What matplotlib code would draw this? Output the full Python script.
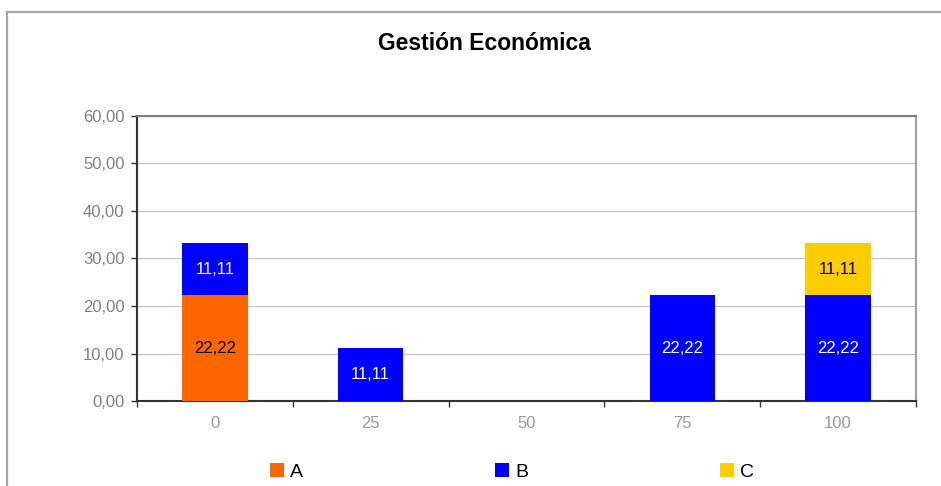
import matplotlib
matplotlib.use("Agg")
import matplotlib.pyplot as plt
from matplotlib.patches import Rectangle
import numpy as np

plt.rcParams['font.family'] = ['Liberation Sans', 'DejaVu Sans']

categories = ["0", "25", "50", "75", "100"]
series_names = ["A", "B", "C"]
values_a = [22.22, 0, 0, 0, 0]
values_b = [11.11, 11.11, 0, 22.22, 22.22]
values_c = [0, 0, 0, 0, 11.11]
colors = ["#FF6600", "#0000FF", "#FFCC00"]
label_colors = ["black", "white", "black"]
y_ticks = [0, 10, 20, 30, 40, 50, 60]

fig = plt.figure(figsize=(9.41, 4.86), dpi=100)
ax = fig.add_axes([137 / 941, 85 / 486, (916 - 137) / 941, (401 - 116) / 486])

# outer chart frame
fig.patches.append(Rectangle((7 / 941, -0.05), 1.0, (486 - 12) / 486 + 0.05,
                             transform=fig.transFigure, fill=False,
                             edgecolor="#A6A6A6", linewidth=1.6, zorder=0))

x = np.arange(len(categories))
bottom = np.zeros(len(categories))
handles = []
for vals, col, lc, name in zip([values_a, values_b, values_c], colors, label_colors, series_names):
    vals = np.array(vals)
    bars = ax.bar(x, vals, width=0.42, bottom=bottom, color=col, zorder=3, label=name)
    handles.append(bars)
    for xi, v, b in zip(x, vals, bottom):
        if v > 0:
            ax.text(xi, b + v / 2, f"{v:.2f}".replace(".", ","), ha="center", va="center",
                    color=lc, fontsize=12, zorder=4)
    bottom = bottom + vals

ax.set_xlim(-0.5, len(categories) - 0.5)
ax.set_ylim(0, 60)
ax.set_yticks(y_ticks)
ax.set_yticklabels([f"{t:.2f}".replace(".", ",") for t in y_ticks])
ax.yaxis.grid(True, color="#C8C8C8", linewidth=1.0, zorder=0)
ax.set_axisbelow(True)

# category boundary ticks (major) and centred labels (minor)
ax.set_xticks(np.arange(-0.5, len(categories), 1.0))
ax.set_xticklabels([])
ax.set_xticks(x, minor=True)
ax.set_xticklabels(categories, minor=True)
ax.tick_params(axis="x", which="major", length=4, width=1, color="#333333", direction="out")
ax.tick_params(axis="x", which="minor", length=0, pad=11, labelsize=12, labelcolor="#999999")
ax.tick_params(axis="y", length=4, width=1, color="#333333", pad=5, labelsize=12, labelcolor="#808080")

for side in ["left", "bottom"]:
    ax.spines[side].set_color("#333333")
    ax.spines[side].set_linewidth(1.5)
ax.spines["top"].set_color("#808080")
ax.spines["top"].set_linewidth(1.5)
ax.spines["right"].set_color("#A0A0A0")
ax.spines["right"].set_linewidth(1.5)

fig.text(484 / 941, 1 - 43 / 486, "Gestión Económica", ha="center", va="center",
         fontsize=16.5, fontweight="bold")

fig.legend(handles, series_names, loc="center", bbox_to_anchor=(512 / 941, 1 - 472 / 486),
           ncol=3, frameon=False, fontsize=14, handlelength=0.72, handleheight=0.72,
           handletextpad=0.3, columnspacing=9.9)

fig.savefig("out.png", dpi=100)
